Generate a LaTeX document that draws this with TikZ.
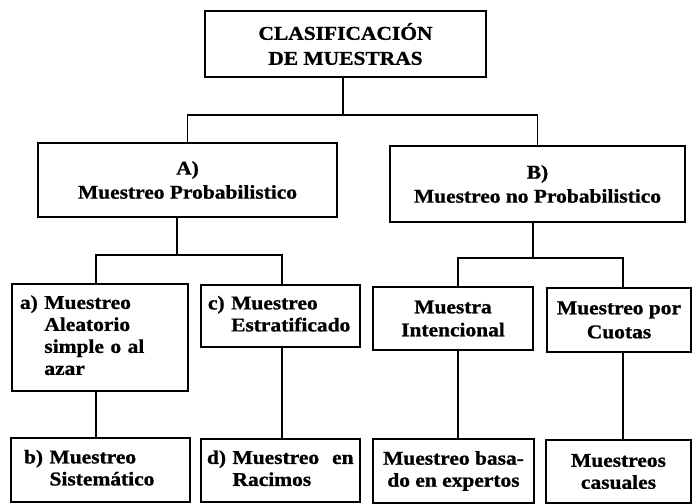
\documentclass[tikz,border=0pt]{standalone}
\usepackage{fontspec}
\setmainfont{Liberation Serif}[FakeStretch=1.1,BoldFeatures={FakeBold=1}]
\begin{document}
\begin{tikzpicture}[x=1bp,y=-1bp,
  caja/.style={draw,line width=2bp,inner ysep=0pt,font=\bfseries\fontsize{19.5bp}{22bp}\selectfont},
  centro/.style={caja,align=center,inner xsep=0pt},
  sangria/.style={caja,align=left},
  linea/.style={line width=1.8bp}]
\useasboundingbox (0,0) rectangle (692,504);

\node[centro,minimum width=281bp,minimum height=66bp] (clasif) at (345.5,44) {CLASIFICACIÓN\\[3bp]DE MUESTRAS};

\node[centro,minimum width=299bp,minimum height=74bp] (prob) at (187.5,180) {A)\\[2bp]Muestreo Probabilistico};
\node[centro,minimum width=295bp,minimum height=76bp] (noprob) at (537.5,184) {B)\\[2bp]Muestreo no Probabilistico};

\node[sangria,inner xsep=8bp,text width=160bp,minimum height=106bp] (aleat) at (100,337.5)
  {\begin{tabular}{@{}l@{\ }l@{}}a) & Muestreo\\ & Aleatorio\\ & simple o al\\ & azar\end{tabular}};
\node[sangria,inner xsep=7bp,text width=145bp,minimum height=62bp] (estrat) at (280.5,316)
  {\begin{tabular}{@{}l@{\ }l@{}}c) & Muestreo\\ & Estratificado\end{tabular}};
\node[centro,minimum width=160bp,minimum height=63bp] (intenc) at (453,318.5) {Muestra\\[1bp]Intencional};
\node[centro,minimum width=144bp,minimum height=64bp] (cuotas) at (619,320) {Muestreo por\\[2bp]Cuotas};

\node[sangria,inner xsep=13bp,text width=153bp,minimum height=64bp] (sistem) at (100.5,470)
  {\begin{tabular}{@{}l@{\ }l@{}}b) & Muestreo\\ & Sistemático\end{tabular}};
\node[sangria,inner xsep=6bp,text width=147bp,minimum height=63bp] (racim) at (280.5,470.5)
  {\begin{tabular}{@{}l@{\ }l@{}}d) & Muestreo\ \ en\\ & Racimos\end{tabular}};
\node[centro,minimum width=161bp,minimum height=64bp] (exper) at (453.5,471) {Muestreo basa-\\do en expertos};
\node[centro,minimum width=145bp,minimum height=63bp] (casual) at (618.5,471.5) {Muestreos\\casuales};

\coordinate (b1) at (343,115);
\coordinate (b2) at (177,255);
\coordinate (b3) at (533,258);
\coordinate (s1) at (96,0);
\coordinate (s2) at (282,0);
\coordinate (s3) at (458,0);
\coordinate (s4) at (623,0);

\draw[linea] (clasif.south -| b1) -- (b1);
\draw[linea] (prob.north) |- (b1) -| (noprob.north);

\draw[linea] (prob.south -| b2) -- (b2);
\draw[linea] (aleat.north -| s1) |- (b2) -| (estrat.north -| s2);
\draw[linea] (noprob.south -| b3) -- (b3);
\draw[linea] (intenc.north -| s3) |- (b3) -| (cuotas.north -| s4);

\draw[linea] (aleat.south -| s1) -- (sistem.north -| s1);
\draw[linea] (estrat.south -| s2) -- (racim.north -| s2);
\draw[linea] (intenc.south -| s3) -- (exper.north -| s3);
\draw[linea] (cuotas.south -| s4) -- (casual.north -| s4);
\end{tikzpicture}
\end{document}
